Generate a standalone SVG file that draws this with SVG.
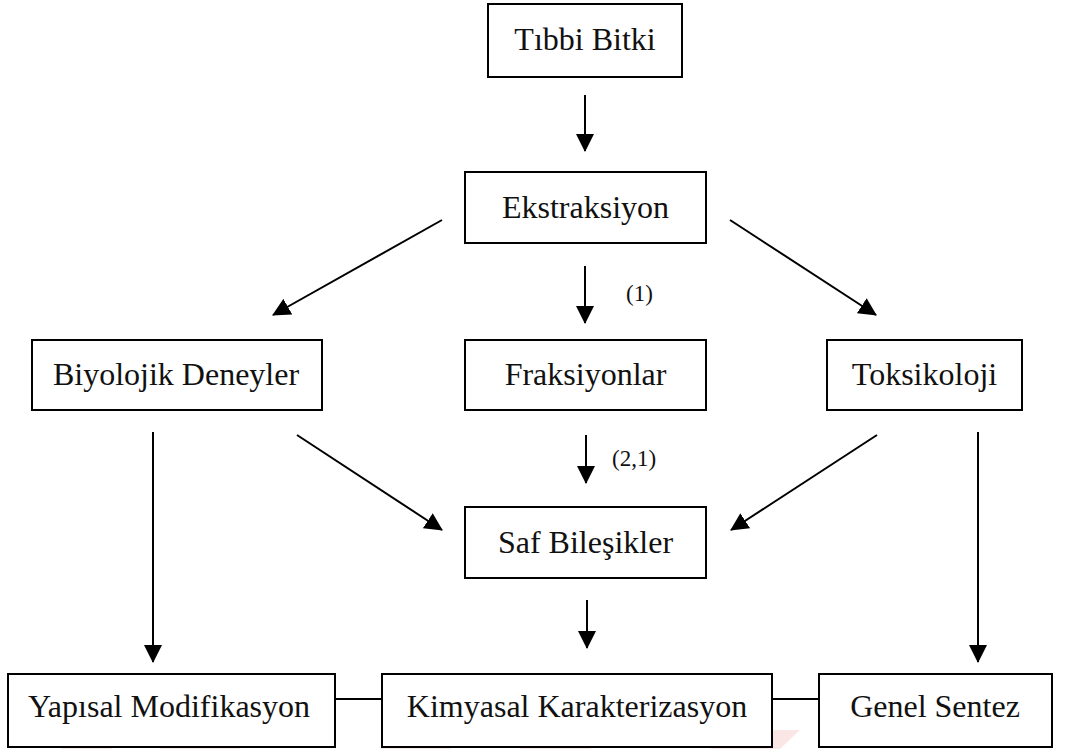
<svg xmlns="http://www.w3.org/2000/svg" width="1067" height="749" viewBox="0 0 1067 749">
<style>
.box{fill:#fff;stroke:#000;stroke-width:2}
.t{font-family:"Liberation Serif","Times New Roman",serif;font-size:32px;fill:#111;text-anchor:middle}
.lb{font-family:"Liberation Serif","Times New Roman",serif;font-size:23px;fill:#111}
.c{stroke:#000;stroke-width:2;fill:none}
.wm{fill:#f9d6d6;opacity:0.6}
</style>
<defs>
<marker id="ah" viewBox="0 0 18 18" refX="17" refY="9" markerWidth="18" markerHeight="18" markerUnits="userSpaceOnUse" orient="auto">
<path d="M0,0 L18,9 L0,18 Z" fill="#000"/>
</marker>
</defs>
<g id="watermark">
<polygon class="wm" points="40,730 90,730 112,749 62,749"/>
<polygon class="wm" points="180,730 260,730 240,749 160,749"/>
<polygon class="wm" points="400,730 470,730 450,749 380,749"/>
<polygon class="wm" points="540,730 610,730 590,749 520,749"/>
<polygon class="wm" points="730,730 800,730 780,749 710,749"/>
</g>
<g id="connectors">
<line class="c" x1="585" y1="95" x2="585" y2="151" marker-end="url(#ah)"/>
<line class="c" x1="585" y1="266" x2="585" y2="323" marker-end="url(#ah)"/>
<line class="c" x1="586" y1="435" x2="586" y2="483" marker-end="url(#ah)"/>
<line class="c" x1="587" y1="600" x2="587" y2="648" marker-end="url(#ah)"/>
<line class="c" x1="442" y1="220" x2="273" y2="315" marker-end="url(#ah)"/>
<line class="c" x1="730" y1="220" x2="876" y2="315" marker-end="url(#ah)"/>
<line class="c" x1="297" y1="435" x2="442" y2="530" marker-end="url(#ah)"/>
<line class="c" x1="877" y1="435" x2="731" y2="530" marker-end="url(#ah)"/>
<line class="c" x1="153" y1="432" x2="153" y2="662" marker-end="url(#ah)"/>
<line class="c" x1="978" y1="432" x2="978" y2="662" marker-end="url(#ah)"/>
<line class="c" x1="335" y1="699" x2="382" y2="699"/>
<line class="c" x1="772" y1="699" x2="819" y2="699"/>
<text class="lb" x="626" y="301">(1)</text>
<text class="lb" x="612" y="466">(2,1)</text>
</g>
<g id="tibbi"><rect class="box" x="488" y="4" width="194" height="73"/><text class="t" x="585" y="50">Tıbbi Bitki</text></g>
<g id="ekstraksiyon"><rect class="box" x="465" y="172" width="241" height="71"/><text class="t" x="585.5" y="218">Ekstraksiyon</text></g>
<g id="biyolojik"><rect class="box" x="32" y="340" width="290" height="70"/><text class="t" x="176" y="385">Biyolojik Deneyler</text></g>
<g id="fraksiyonlar"><rect class="box" x="465" y="340" width="241" height="70"/><text class="t" x="585.5" y="385">Fraksiyonlar</text></g>
<g id="toksikoloji"><rect class="box" x="827" y="340" width="195" height="70"/><text class="t" x="924.5" y="385">Toksikoloji</text></g>
<g id="saf"><rect class="box" x="465" y="507" width="241" height="71"/><text class="t" x="585.5" y="553">Saf Bileşikler</text></g>
<g id="yapisal"><rect class="box" x="8" y="674" width="327" height="73"/><text class="t" x="169" y="717">Yapısal Modifikasyon</text></g>
<g id="kimyasal"><rect class="box" x="382" y="674" width="390" height="73"/><text class="t" x="577" y="717">Kimyasal Karakterizasyon</text></g>
<g id="genel"><rect class="box" x="819" y="674" width="233" height="73"/><text class="t" x="935" y="717">Genel Sentez</text></g>
</svg>
